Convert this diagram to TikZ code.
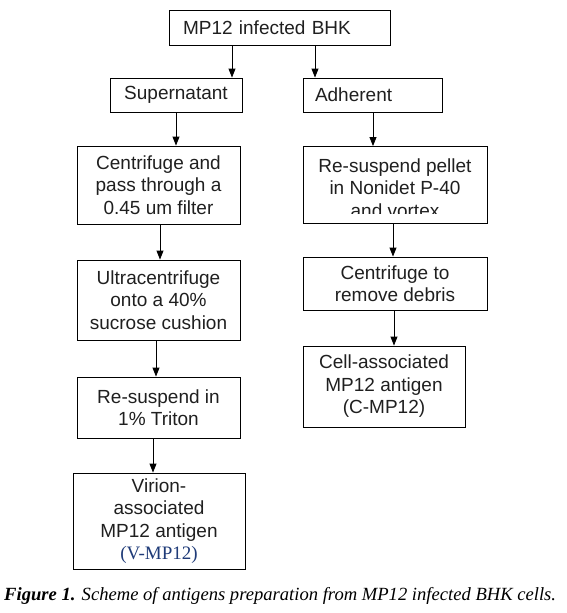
\documentclass[tikz,border=0pt]{standalone}
\usepackage{fontspec}
\setmainfont{Liberation Sans}
\newfontfamily\serifcap{Liberation Serif}
\usetikzlibrary{arrows.meta}
\definecolor{vblue}{HTML}{1F3B78}
\tikzset{
  box/.style={draw=black, line width=0.9pt, inner sep=0pt, align=center,
    font=\fontsize{19}{22.5}\selectfont, text=black!88},
  arr/.style={line width=0.9pt, -{Triangle[length=9pt,width=7pt]}},
}
\begin{document}
\begin{tikzpicture}[x=1pt,y=-1pt]
\useasboundingbox (0,0) rectangle (566,613);
% boxes
\node[box, minimum width=221pt, minimum height=35pt, text width=193pt, align=left] (top) at (279.5,27.5) {MP12 infected BHK};
\node[box, minimum width=132pt, minimum height=34pt] (sup) at (176,95) {\raisebox{-1.5pt}{Supernatant}};
\node[box, minimum width=139pt, minimum height=34pt, text width=115pt, align=left] (adh) at (372.5,95) {Adherent};
\node[box, minimum width=163pt, minimum height=78pt] (cen) at (158.5,185) {Centrifuge and\\pass through a\\0.45 um filter};
\node[box, minimum width=163pt, minimum height=80pt] (ultra) at (158.5,300) {Ultracentrifuge\\onto a 40\%\\sucrose cushion};
\node[box, minimum width=163pt, minimum height=61pt] (triton) at (158.5,407.5) {Re-suspend in\\1\% Triton};
\node[box, minimum width=172pt, minimum height=96pt] (virion) at (159,521) {Virion-\\associated\\MP12 antigen\\{\serifcap\color{vblue}(V-MP12)}};
\node[box, minimum width=184pt, minimum height=77pt] (pellet) at (395,185) {};
\begin{scope}
\clip (303,140) rectangle (487,213.5);
\node[box, draw=none, anchor=north] (pellettext) at (395,158) {Re-suspend pellet\\in Nonidet P-40\\and vortex};
\end{scope}
\node[box, minimum width=184pt, minimum height=53pt] (debris) at (395,283.5) {Centrifuge to\\remove debris};
\node[box, minimum width=162pt, minimum height=81pt] (cell) at (384,386.5) {Cell-associated\\MP12 antigen\\(C-MP12)};
% connectors
\draw[arr] (top.south -| 232,0) -- (sup.north -| 232,0);
\draw[arr] (top.south -| 315,0) -- (adh.north -| 315,0);
\draw[arr] (sup.south -| 176,0) -- (cen.north -| 176,0);
\draw[arr] (cen.south -| 160,0) -- (ultra.north -| 160,0);
\draw[arr] (ultra.south -| 156,0) -- (triton.north -| 156,0);
\draw[arr] (triton.south -| 153,0) -- (virion.north -| 153,0);
\draw[arr] (adh.south -| 373,0) -- (pellet.north -| 373,0);
\draw[arr] (pellet.south -| 393,0) -- (debris.north -| 393,0);
\draw[arr] (debris.south -| 394,0) -- (cell.north -| 394,0);
% caption
\node[anchor=base west, inner sep=0pt, font=\serifcap\fontsize{18.6}{21}\selectfont] (cap) at (4,600)
  {\textbf{\textit{Figure 1.}} \textit{Scheme of antigens preparation from MP12 infected BHK cells.}};
\end{tikzpicture}
\end{document}
